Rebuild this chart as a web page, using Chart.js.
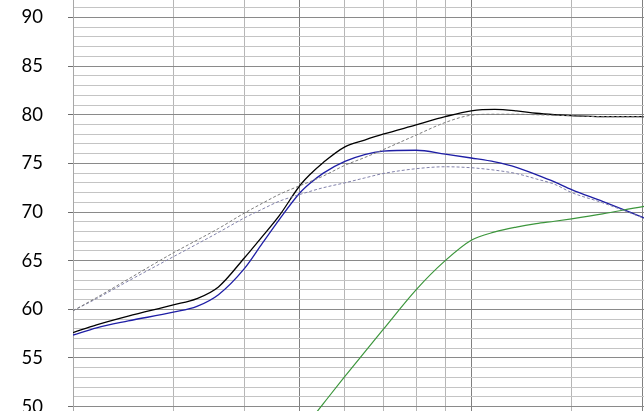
<!DOCTYPE html>
<html><head><meta charset="utf-8">
<script src="https://cdn.jsdelivr.net/npm/chart.js@4.4.1/dist/chart.umd.min.js"></script>
<style>
html,body{margin:0;padding:0;background:#fff;overflow:hidden;width:644px;height:411px;}
#wrap{position:absolute;left:0;top:-42px;width:698px;height:508px;}
canvas{display:block;}
</style></head><body>
<div id="wrap"><canvas id="c" width="698" height="508" style="width:698px;height:508px"></canvas></div>
<script>
// ---- data ----
const xValues = [2, 2.2, 2.5, 3, 3.3, 3.6, 4, 4.3, 4.6, 5, 5.2, 5.5, 6, 6.5, 7, 8, 9, 10, 11, 12, 13, 14, 15, 17, 20, 22];
const blackCurve = [57.6, 58.4, 59.3, 60.45, 61.1, 62.3, 65.3, 67.5, 69.6, 72.7, 73.8, 75.1, 76.7, 77.4, 78.0, 78.95, 79.8, 80.4, 80.55, 80.4, 80.15, 80.0, 79.9, 79.8, 79.8, 79.8];
const blueCurve = [57.35, 58.1, 58.8, 59.7, 60.3, 61.5, 64.2, 66.8, 69.2, 71.95, 72.9, 74.0, 75.2, 75.9, 76.25, 76.35, 75.95, 75.55, 75.15, 74.6, 73.85, 73.1, 72.3, 71.1, 69.45, 68.5];
const upperDashed = [59.85, 61.2, 63.1, 65.8, 67.1, 68.3, 69.9, 70.9, 71.8, 72.7, 73.1, 73.7, 74.8, 75.6, 76.4, 77.9, 79.2, 79.95, 80.05, 80.05, 80.0, 79.95, 79.9, 79.8, 79.8, 79.8];
const lowerDashed = [59.85, 61.1, 62.9, 65.4, 66.7, 67.9, 69.4, 70.3, 71.1, 71.8, 72.1, 72.5, 73.0, 73.5, 73.95, 74.45, 74.65, 74.55, 74.3, 73.95, 73.4, 72.85, 72.0, 70.95, 69.4, 68.4];
const greenX = [5, 5.5, 6, 6.5, 7, 8, 9, 10, 11, 12, 13, 14, 15, 17, 20, 22];
const greenCurve = [47.2, 50.3, 53.1, 55.6, 57.9, 62.0, 65.0, 67.1, 67.95, 68.45, 68.8, 69.05, 69.3, 69.8, 70.55, 70.9];
const xGridValues = [2, 3, 4, 5, 6, 7, 8, 9, 10, 15, 20];
const xMajorGrid = [5, 10, 20];
const yMin = 48, yMax = 92, yLabelStep = 5;

function pts(xs, ys){ return xs.map((x, i) => ({x: x, y: ys[i]})); }
const yTickValues = [];
for (let v = yMin; v <= yMax; v++) yTickValues.push(v);

function lineDs(data, color, dash, width){
  return {
    data: data, borderColor: color, borderWidth: width, borderDash: dash || [],
    pointRadius: 0, fill: false, cubicInterpolationMode: 'monotone'
  };
}

new Chart(document.getElementById('c'), {
  type: 'line',
  data: {
    datasets: [
      lineDs(pts(xValues, upperDashed), '#7c7c7c', [3, 2], 1),
      lineDs(pts(xValues, lowerDashed), '#8080aa', [3, 2], 1),
      lineDs(pts(greenX, greenCurve), '#3c963c', null, 1.2),
      lineDs(pts(xValues, blueCurve), '#1e1ea5', null, 1.3),
      lineDs(pts(xValues, blackCurve), '#000000', null, 1.3)
    ]
  },
  options: {
    responsive: false,
    animation: false,
    events: [],
    layout: { padding: { top: 40, bottom: 40, left: 0, right: 0 } },
    plugins: { legend: { display: false }, tooltip: { enabled: false } },
    scales: {
      x: {
        type: 'logarithmic',
        min: 2, max: 25,
        afterBuildTicks: s => { s.ticks = xGridValues.map(v => ({value: v})); },
        afterFit: s => { s.height = 0; },
        ticks: { display: false },
        border: { display: false },
        grid: {
          drawTicks: false,
          lineWidth: 1,
          color: c => xMajorGrid.includes(c.tick && c.tick.value) ? '#808080' : '#b6b6b6'
        }
      },
      y: {
        type: 'linear',
        min: yMin, max: yMax,
        afterBuildTicks: s => { s.ticks = yTickValues.map(v => ({value: v})); },
        afterFit: s => { s.width = 73; },
        border: { display: true, color: '#a8a8a8', width: 1 },
        grid: {
          lineWidth: 1,
          tickLength: 5,
          color: c => (c.tick && c.tick.value % yLabelStep === 0) ? '#8a8a8a' : '#c4c4c4',
          tickColor: c => (c.tick && c.tick.value % yLabelStep === 0) ? '#6e6e6e' : 'rgba(0,0,0,0)'
        },
        ticks: {
          autoSkip: false,
          padding: 25,
          color: '#000000',
          font: { family: 'Lato', size: 18.5 },
          callback: v => (v % yLabelStep === 0 ? String(v) : '')
        }
      }
    }
  }
});
</script>
</body></html>
